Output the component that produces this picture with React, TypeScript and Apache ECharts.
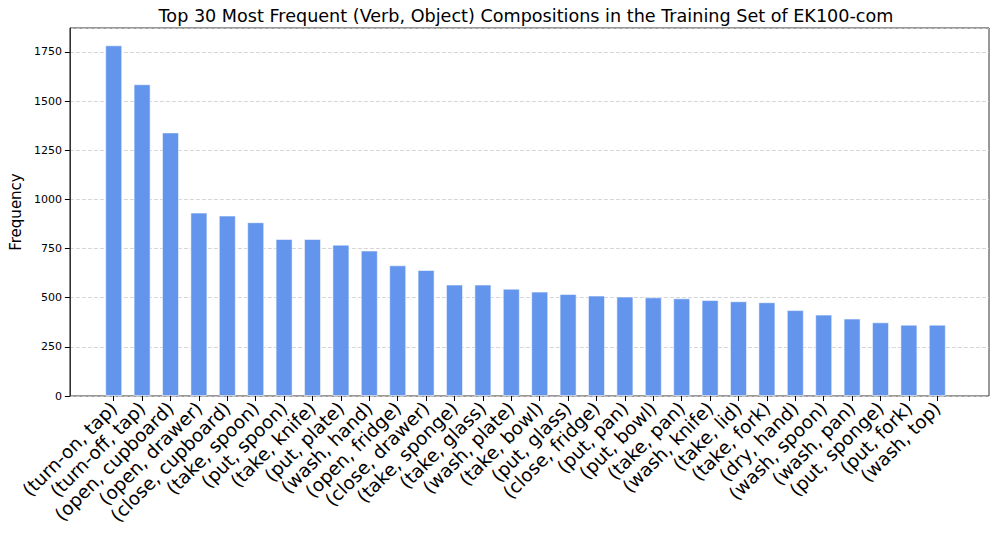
import React, { useEffect, useRef } from "react";
import * as echarts from "echarts";

const categories = [
  "(turn-on, tap)", "(turn-off, tap)", "(open, cupboard)", "(open, drawer)", "(close, cupboard)",
  "(take, spoon)", "(put, spoon)", "(take, knife)", "(put, plate)", "(wash, hand)",
  "(open, fridge)", "(close, drawer)", "(take, sponge)", "(take, glass)", "(wash, plate)",
  "(take, bowl)", "(put, glass)", "(close, fridge)", "(put, pan)", "(put, bowl)",
  "(take, pan)", "(wash, knife)", "(take, lid)", "(take, fork)", "(dry, hand)",
  "(wash, spoon)", "(wash, pan)", "(put, sponge)", "(put, fork)", "(wash, top)",
];
const frequencies = [
  1784, 1586, 1341, 933, 918, 884, 799, 799, 770, 740,
  665, 641, 567, 567, 546, 531, 519, 511, 506, 502,
  497, 488, 482, 477, 437, 414, 394, 375, 363, 363,
];
const yTicks = [0, 250, 500, 750, 1000, 1250, 1500, 1750];
const yMax = 1872;
const titleText = "Top 30 Most Frequent (Verb, Object) Compositions in the Training Set of EK100-com";

const FONT = "DejaVu Sans";

export default function App() {
  const ref = useRef<HTMLDivElement>(null);
  useEffect(() => {
    if (!ref.current) return;
    const chart = echarts.init(ref.current, null, { renderer: "svg" });
    chart.setOption({
      animation: false,
      backgroundColor: "#ffffff",
      title: {
        text: titleText,
        left: 521,
        textAlign: "center",
        top: 2,
        textStyle: { fontFamily: FONT, fontSize: 17.6, fontWeight: "normal", color: "#000" },
      },
      grid: [
        { left: 63, right: 8, top: 28, bottom: 137, show: true, borderColor: "#333", borderWidth: 1, backgroundColor: "transparent" },
        { left: 99.5, right: 45.5, top: 28, bottom: 137 },
      ],
      xAxis: [
        { type: "value", gridIndex: 0, show: false, min: 0, max: 1 },
        {
          type: "category",
          gridIndex: 1,
          data: categories,
          axisLine: { show: false },
          axisTick: { show: true, alignWithLabel: true, length: 5, lineStyle: { color: "#000" } },
          axisLabel: {
            rotate: 45,
            interval: 0,
            fontFamily: FONT,
            fontSize: 18.5,
            color: "#000",
            margin: 9,
          },
        },
      ],
      yAxis: [
        {
          type: "value",
          gridIndex: 0,
          min: 0,
          max: yMax,
          interval: 250,
          name: "Frequency",
          nameLocation: "middle",
          nameGap: 44,
          nameTextStyle: { fontFamily: FONT, fontSize: 15, color: "#000" },
          axisLine: { show: true, lineStyle: { color: "#333" } },
          axisTick: { show: true, length: 5, lineStyle: { color: "#000" } },
          axisLabel: {
            fontFamily: FONT,
            fontSize: 11,
            color: "#000",
            margin: 8,
            showMaxLabel: false,
            formatter: (v: number) => (yTicks.includes(v) ? String(v) : ""),
          },
          splitLine: { show: true, lineStyle: { color: "#cccccc", type: [4, 2], width: 0.8 } },
        },
        { type: "value", gridIndex: 1, min: 0, max: yMax, show: false, splitLine: { show: false } },
      ],
      series: [
        {
          type: "bar",
          xAxisIndex: 1,
          yAxisIndex: 1,
          data: frequencies,
          barWidth: "60%",
          itemStyle: { color: "#6495ED", borderColor: "rgba(255,255,255,0.55)", borderWidth: 1 },
        },
      ],
    });
    return () => chart.dispose();
  }, []);
  return <div ref={ref} style={{ width: 997, height: 533, position: "absolute", left: 0, top: 0 }} />;
}
